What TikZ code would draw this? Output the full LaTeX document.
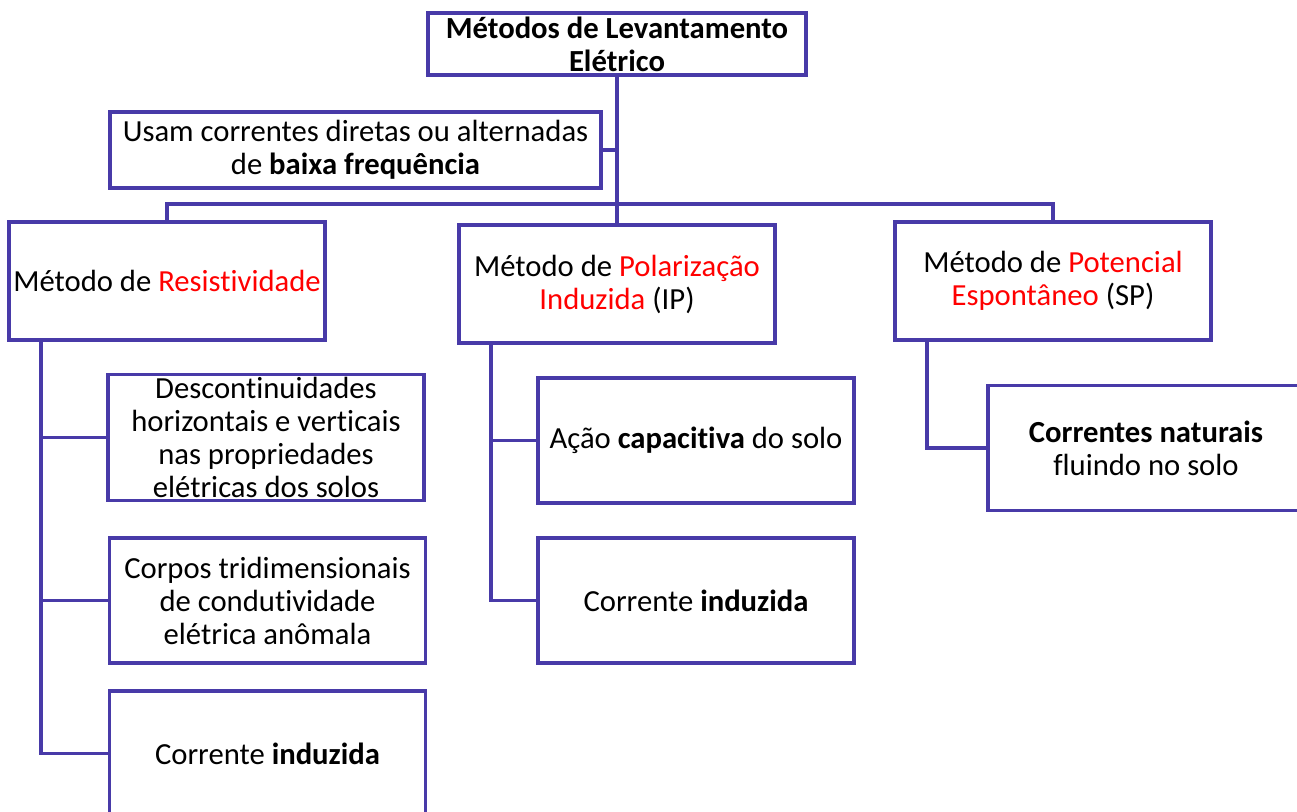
\documentclass[tikz,border=0pt]{standalone}
\usepackage{fontspec}
\setmainfont{Carlito}[Ligatures=NoCommon]
\usepackage{xcolor}
\definecolor{lnblue}{RGB}{72,58,168}
\definecolor{hlred}{RGB}{255,0,0}
\tikzset{
  box/.style={draw=lnblue,line width=2.3pt,align=center,inner sep=2pt,font=\fontsize{23}{24.75}\selectfont},
  meth/.style={box,minimum width=237pt,minimum height=88.5pt},
  kid/.style={box,minimum width=237pt,minimum height=93.75pt},
  ln/.style={draw=lnblue,line width=2.3pt}
}
\newcommand{\rtxt}[1]{\textcolor{hlred}{#1}}

\begin{document}
\begin{tikzpicture}[x=0.75pt,y=-0.75pt]
\clip (0,0) rectangle (1297,812);
% main level
\node[box,minimum width=283.5pt,minimum height=46.5pt] (top) at (617,44) {\textbf{Métodos de Levantamento}\\\textbf{Elétrico}};
\node[box,minimum width=368.25pt,minimum height=57pt] (usam) at (355.5,150) {Usam correntes diretas ou alternadas\\de \textbf{baixa frequência}};
\node[meth] (res) at (167,281) {Método de \rtxt{Resistividade}};
\node[meth] (ip) at (617,284) {Método de \rtxt{Polarização}\\\rtxt{Induzida} (IP)};
\node[meth] (sp) at (1053,281) {Método de \rtxt{Potencial}\\\rtxt{Espontâneo} (SP)};
% children
\node[kid] (r1) at (266,437.5) {Descontinuidades\\horizontais e verticais\\nas propriedades\\elétricas dos solos};
\node[kid] (r2) at (267.5,600.5) {Corpos tridimensionais\\de condutividade\\elétrica anômala};
\node[kid] (r3) at (267.5,753.5) {Corrente \textbf{induzida}};
\node[kid] (i1) at (696,440.5) {Ação \textbf{capacitiva} do solo};
\node[kid] (i2) at (696,600.5) {Corrente \textbf{induzida}};
\node[kid] (s1) at (1146,448) {\textbf{Correntes naturais}\\fluindo no solo};
% connectors
\coordinate (bus) at (617,204);
\coordinate (rrail) at (41,340);
\coordinate (irail) at (491,344);
\coordinate (srail) at (927,340);
\draw[ln] (top.south) -- (ip.north);
\draw[ln] (usam.east) -- (usam.east -| top.south);
\draw[ln] (res.north) |- (bus) -| (sp.north);
\draw[ln] (rrail) |- (r3.west); \draw[ln] (r1.west) -- (r1.west -| rrail); \draw[ln] (r2.west) -- (r2.west -| rrail);
\draw[ln] (irail) |- (i2.west); \draw[ln] (i1.west) -- (i1.west -| irail);
\draw[ln] (srail) |- (s1.west);
\end{tikzpicture}
\end{document}
